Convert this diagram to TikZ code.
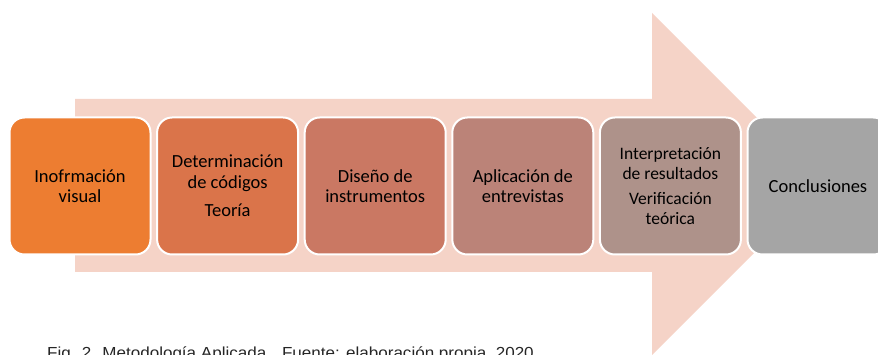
\documentclass[tikz,border=0pt]{standalone}
\usepackage{fontspec}
\setmainfont{Carlito}
\newfontfamily\captionfont{Liberation Sans}
\usetikzlibrary{positioning}
\definecolor{arrowpink}{RGB}{245,211,199}
\definecolor{stepA}{RGB}{237,125,49}
\definecolor{stepB}{RGB}{218,116,74}
\definecolor{stepC}{RGB}{202,120,99}
\definecolor{stepD}{RGB}{187,131,120}
\definecolor{stepE}{RGB}{174,146,138}
\definecolor{stepF}{RGB}{165,165,165}
\tikzset{%
stepbox/.style={rectangle, rounded corners=15pt, draw=white, line width=2pt, outer sep=0pt,
  minimum width=141pt, minimum height=137pt, align=center, text=black,
  font=\fontsize{18.5}{20.5}\selectfont},
bigarrow/.style={fill=arrowpink, draw=none}
}

\begin{document}
\begin{tikzpicture}[x=1pt, y=-1pt, node distance=6.6pt]
		\useasboundingbox (0,0) rectangle (878,355);
		\clip (0,0) rectangle (878,355);
		
		% background arrow
		\fill[bigarrow] (75,99) -- (652,99) -- (652,13) -- (823,184) -- (652,355) -- (652,272) -- (75,272) -- cycle;
		
		\node[stepbox, fill=stepA] (info) at (80,186) {Inofrmación\\visual};
		\node[stepbox, fill=stepB] (codes) [right=of info] {Determinación\\de códigos\\[8pt]Teoría};
		\node[stepbox, fill=stepC] (design) [right=of codes] {Diseño de\\instrumentos};
		\node[stepbox, fill=stepD] (interviews) [right=of design] {Aplicación de\\entrevistas};
		\node[stepbox, fill=stepE, font=\fontsize{17.5}{19.5}\selectfont] (results) [right=of interviews] {Interpretación\\de resultados\\[6pt]Verificación\\teórica};
		\node[stepbox, fill=stepF] (concl) [right=of results] {Conclusiones};
		
		\node[anchor=base west, inner sep=0pt, text=black!85, font=\captionfont\fontsize{16}{18}\selectfont] (caption) at (47,358.5) {\scalebox{1.065}[1]{Fig. 2. Metodología Aplicada . Fuente: elaboración propia, 2020}};
	\end{tikzpicture}
\end{document}
